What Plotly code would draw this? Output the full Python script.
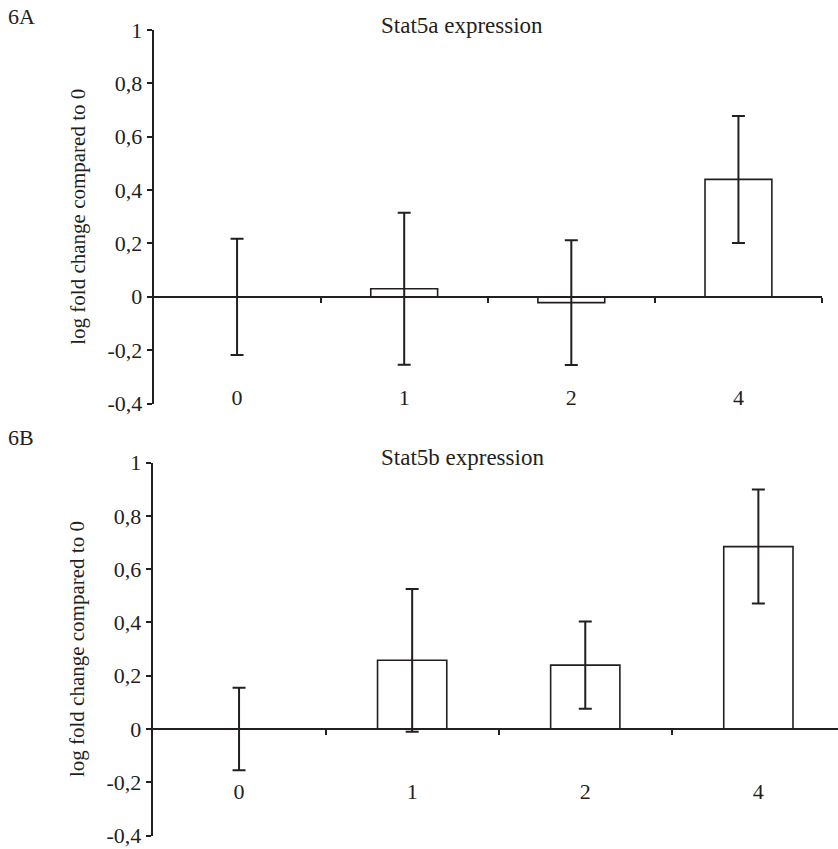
import plotly.graph_objects as go

# ---------------- data ----------------
categories = ['0', '1', '2', '4']
stat5a_mean = [0.0, 0.03, -0.022, 0.44]
stat5a_err = [0.218, 0.285, 0.234, 0.238]
stat5b_mean = [0.0, 0.258, 0.240, 0.685]
stat5b_err = [0.155, 0.268, 0.164, 0.214]
ytick_vals = [-0.4, -0.2, 0, 0.2, 0.4, 0.6, 0.8, 1]
ytick_text = ['-0,4', '-0,2', '0', '0,2', '0,4', '0,6', '0,8', '1']
boundary_ticks = [0.5, 1.5, 2.5, 3.5]
panel_labels = ['6A', '6B']
panel_titles = ['Stat5a expression', 'Stat5b expression']
ytitle = 'log fold change compared to 0'

# ---------------- layout helpers ----------------
W, H = 838, 849
ML = 100
PW = W - ML
INK = '#231f20'
FONT = 'Liberation Serif, Times New Roman, DejaVu Serif, serif'


def px_x(px):
    return (px - ML) / PW


def px_y(py):
    return 1 - py / H


YMIN, YMAX = -0.4, 1.0
top_dom_y = [px_y(403.5), px_y(30)]
bot_dom_y = [px_y(835.5), px_y(462.7)]
top_dom_x = [px_x(153.5), px_x(822)]
bot_dom_x = [px_x(152.5), 1.0]
top_xrange = [-0.5, 3.5]
bot_xrange = [-0.5, 3.46]


def zero_pos(dom):
    return dom[0] + (dom[1] - dom[0]) * (0 - YMIN) / (YMAX - YMIN)


fig = go.Figure()

for i, (mean, err) in enumerate([(stat5a_mean, stat5a_err), (stat5b_mean, stat5b_err)]):
    xa = 'x' if i == 0 else 'x2'
    ya = 'y' if i == 0 else 'y2'
    fig.add_trace(go.Bar(
        x=list(range(len(categories))), y=mean, width=0.4,
        xaxis=xa, yaxis=ya,
        marker=dict(color='white', line=dict(color=INK, width=1.6)),
        error_y=dict(type='data', array=err, visible=True, color=INK,
                     thickness=2, width=6.5),
        showlegend=False, hoverinfo='skip'))
    # helper (empty) trace for the zero-line axis with boundary ticks
    fig.add_trace(go.Scatter(x=[], y=[], xaxis='x3' if i == 0 else 'x4',
                             yaxis=ya, showlegend=False))

tickfont = dict(family=FONT, size=22, color=INK)

common_y = dict(range=[YMIN, YMAX], tickvals=ytick_vals, ticktext=ytick_text,
                showline=True, linecolor=INK, linewidth=1.6, ticks='outside',
                ticklen=5, tickwidth=1.6, tickcolor=INK, showgrid=False,
                zeroline=False, tickfont=tickfont, automargin=False,
                ticklabeloverflow='allow',
                title=dict(text=ytitle, font=dict(family=FONT, size=21, color=INK),
                           standoff=16))

common_x = dict(tickvals=list(range(len(categories))), ticktext=categories,
                showline=False, ticks='', showgrid=False, zeroline=False,
                tickfont=tickfont, automargin=False, anchor='free',
                ticklabeloverflow='allow')

zero_x = dict(showline=True, linecolor=INK, linewidth=1.6, ticks='outside',
              ticklen=5, tickwidth=1.6, tickcolor=INK, tickvals=boundary_ticks,
              showticklabels=False, showgrid=False, zeroline=False,
              anchor='free', automargin=False)

fig.update_layout(
    width=W, height=H,
    margin=dict(l=ML, r=0, t=0, b=0),
    paper_bgcolor='white', plot_bgcolor='white',
    font=dict(family=FONT, color=INK),
    xaxis=dict(domain=top_dom_x, range=top_xrange, position=px_y(382), **common_x),
    yaxis=dict(domain=top_dom_y, anchor='x', **common_y),
    xaxis2=dict(domain=bot_dom_x, range=bot_xrange, position=px_y(776), **common_x),
    yaxis2=dict(domain=bot_dom_y, anchor='x2', **common_y),
    xaxis3=dict(domain=top_dom_x, range=top_xrange, overlaying='x',
                position=zero_pos(top_dom_y), **zero_x),
    xaxis4=dict(domain=bot_dom_x, range=bot_xrange, overlaying='x2',
                position=zero_pos(bot_dom_y), **zero_x),
)

annots = [
    dict(text=panel_labels[0], x=px_x(6), y=px_y(16), xanchor='left', yanchor='middle'),
    dict(text=panel_labels[1], x=px_x(6), y=px_y(437), xanchor='left', yanchor='middle'),
]
for a in annots:
    a.update(xref='paper', yref='paper', showarrow=False,
             font=dict(family=FONT, size=22, color=INK))
    fig.add_annotation(**a)

for t, yc in zip(panel_titles, [26, 457]):
    fig.add_annotation(text=t, x=px_x(462), y=px_y(yc), xref='paper', yref='paper',
                       xanchor='center', yanchor='middle', showarrow=False,
                       font=dict(family=FONT, size=23, color=INK))

fig.write_html('out.html')
